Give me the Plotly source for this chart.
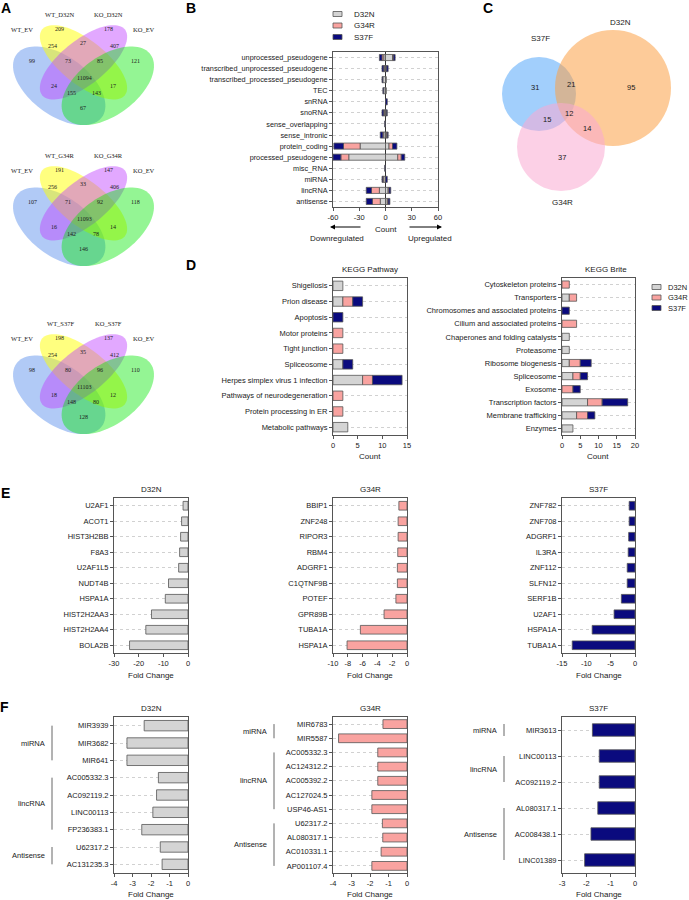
import numpy as np
import plotly.graph_objects as go

W, H = 689, 900
SANS = "Liberation Sans, Arial, sans-serif"
SERIF = "Liberation Serif, Times New Roman, serif"
C_D32N = "#d4d4d4"
C_G34R = "#f9a3a0"
C_S37F = "#0a0a7e"
EDGE = "#555555"
TXT = "#1a1a1a"

# ---------------- data ----------------
venn_sets = [["WT_EV", "WT_D32N", "KO_D32N", "KO_EV"],
             ["WT_EV", "WT_G34R", "KO_G34R", "KO_EV"],
             ["WT_EV", "WT_S37F", "KO_S37F", "KO_EV"]]
venn_d32n = [99, 209, 178, 121, 254, 27, 407, 73, 85, 11094, 24, 17, 155, 143, 67]
venn_g34r = [107, 191, 147, 118, 256, 33, 406, 71, 92, 11093, 16, 14, 142, 78, 146]
venn_s37f = [98, 198, 137, 110, 254, 35, 412, 80, 96, 11103, 18, 12, 148, 80, 128]

b_cats = ["unprocessed_pseudogene", "transcribed_unprocessed_pseudogene",
          "transcribed_processed_pseudogene", "TEC", "snRNA", "snoRNA",
          "sense_overlapping", "sense_intronic", "protein_coding",
          "processed_pseudogene", "misc_RNA", "miRNA", "lincRNA", "antisense"]
b_d32n_down = [2, 1, 3, 2, 0, 1, 0, 2, 29, 42, 0, 2, 7, 6]
b_g34r_down = [2, 1, 0, 0, 0, 1, 0, 1, 19, 9, 0, 1, 9, 9]
b_s37f_down = [3, 2, 1, 1, 0, 2, 1, 3, 11, 9, 1, 1, 6, 7]
b_d32n_up = [8, 1, 1, 1, 0, 1, 0, 1, 4, 14, 0, 0, 3, 2]
b_g34r_up = [1, 0, 0, 0, 0, 0, 0, 1, 4, 4, 0, 0, 1, 1]
b_s37f_up = [2, 2, 0, 0, 2, 1, 0, 1, 5, 4, 0, 2, 2, 2]

c_labels = ["S37F", "D32N", "G34R"]
c_counts = [31, 21, 95, 15, 12, 14, 37]

path_cats = ["Shigellosis", "Prion disease", "Apoptosis", "Motor proteins",
             "Tight junction", "Spliceosome", "Herpes simplex virus 1 infection",
             "Pathways of neurodegeneration", "Protein processing in ER",
             "Metabolic pathways"]
path_d32n = [2, 2, 0, 0, 0, 2, 6, 0, 0, 3]
path_g34r = [0, 2, 0, 2, 2, 0, 2, 2, 2, 0]
path_s37f = [0, 2, 2, 0, 0, 2, 6, 0, 0, 0]

brite_cats = ["Cytoskeleton proteins", "Transporters",
              "Chromosomes and associated proteins", "Cilium and associated proteins",
              "Chaperones and folding catalysts", "Proteasome", "Ribosome biogenesis",
              "Spliceosome", "Exosome", "Transcription factors",
              "Membrane trafficking", "Enzymes"]
brite_d32n = [0, 2, 0, 0, 2, 2, 2, 3, 0, 7, 4, 3]
brite_g34r = [2, 2, 0, 4, 0, 0, 3, 2, 3, 4, 3, 0]
brite_s37f = [0, 0, 2, 0, 0, 0, 3, 2, 2, 7, 2, 0]

e_d32n_genes = ["U2AF1", "ACOT1", "HIST3H2BB", "F8A3", "U2AF1L5", "NUDT4B",
                "HSPA1A", "HIST2H2AA3", "HIST2H2AA4", "BOLA2B"]
e_d32n_fc = [-2.0, -2.6, -3.0, -3.4, -3.8, -7.9, -9.2, -14.8, -17.1, -23.7]
e_g34r_genes = ["BBIP1", "ZNF248", "RIPOR3", "RBM4", "ADGRF1", "C1QTNF9B",
                "POTEF", "GPR89B", "TUBA1A", "HSPA1A"]
e_g34r_fc = [-1.1, -1.2, -1.2, -1.25, -1.3, -1.3, -1.5, -3.1, -6.3, -8.1]
e_s37f_genes = ["ZNF782", "ZNF708", "ADGRF1", "IL3RA", "ZNF112", "SLFN12",
                "SERF1B", "U2AF1", "HSPA1A", "TUBA1A"]
e_s37f_fc = [-1.2, -1.2, -1.3, -1.4, -1.6, -1.6, -2.8, -4.3, -8.8, -12.9]

f_d32n_genes = ["MIR3939", "MIR3682", "MIR641", "AC005332.3", "AC092119.2",
                "LINC00113", "FP236383.1", "U62317.2", "AC131235.3"]
f_d32n_fc = [-2.37, -3.3, -3.3, -1.6, -1.7, -1.9, -2.5, -1.5, -1.4]
f_d32n_groups = [("miRNA", 0, 2), ("lincRNA", 3, 6), ("Antisense", 7, 8)]
f_g34r_genes = ["MIR6783", "MIR5587", "AC005332.3", "AC124312.2", "AC005392.2",
                "AC127024.5", "USP46-AS1", "U62317.2", "AL080317.1",
                "AC010331.1", "AP001107.4"]
f_g34r_fc = [-1.3, -3.7, -1.58, -1.58, -1.58, -1.9, -1.9, -1.33, -1.31, -1.4, -1.9]
f_g34r_groups = [("miRNA", 0, 1), ("lincRNA", 2, 6), ("Antisense", 7, 10)]
f_s37f_genes = ["MIR3613", "LINC00113", "AC092119.2", "AL080317.1",
                "AC008438.1", "LINC01389"]
f_s37f_fc = [-1.75, -1.47, -1.47, -1.53, -1.81, -2.07]
f_s37f_groups = [("miRNA", 0, 0), ("lincRNA", 1, 2), ("Antisense", 3, 5)]

# ---------------- helpers ----------------
fig = go.Figure()
layout = dict(width=W, height=H, margin=dict(l=0, r=0, t=0, b=0), template="none",
              font=dict(family=SANS, color=TXT),
              paper_bgcolor="white", plot_bgcolor="rgba(0,0,0,0)",
              showlegend=False, barmode="relative")
annotations = []
shapes = []
OV = ("x10", "y10")


def nz(vals, sign=1):
    return [sign * v if v else None for v in vals]


def txt(x, y, s, size=7.5, family=SANS, xanchor="center", color=TXT, **kw):
    annotations.append(dict(x=x, y=y, xref=OV[0], yref=OV[1], text=s,
                            showarrow=False, xanchor=xanchor, yanchor="middle",
                            font=dict(family=family, size=size, color=color), **kw))


def add_axes(i, xl, xr, yt, yb, cats, xrange, tickvals, ticktext=None):
    xa = "xaxis" if i == 1 else f"xaxis{i}"
    ya = "yaxis" if i == 1 else f"yaxis{i}"
    if ticktext is None:
        ticktext = [str(v) for v in tickvals]
    layout[xa] = dict(domain=[xl / W, xr / W], range=xrange, tickvals=tickvals,
                      ticktext=ticktext, anchor=f"y{i}", showline=True,
                      linecolor=EDGE, linewidth=1, mirror=True, ticks="outside",
                      ticklen=3, tickwidth=1, tickcolor=EDGE,
                      tickfont=dict(family=SANS, size=7.5, color=TXT),
                      showgrid=False, zeroline=False, fixedrange=True)
    layout[ya] = dict(domain=[1 - yb / H, 1 - yt / H], type="category",
                      categoryorder="array", categoryarray=cats,
                      range=[len(cats) - 0.5, -0.5], anchor=f"x{i}",
                      showline=True, linecolor=EDGE, linewidth=1, mirror=True,
                      ticks="outside", ticklen=3, tickwidth=1, tickcolor=EDGE,
                      tickfont=dict(family=SANS, size=7.5, color=TXT),
                      showgrid=True, gridcolor="#c6c6c6", griddash="dot",
                      gridwidth=0.8, zeroline=False, fixedrange=True)


def bar(i, xs, cats, color, width):
    fig.add_trace(go.Bar(x=xs, y=cats, orientation="h", width=width,
                         marker=dict(color=color, line=dict(color=EDGE, width=0.8)),
                         xaxis=f"x{i}", yaxis=f"y{i}", hoverinfo="skip"))


# overlay axis in pixel coordinates
layout["xaxis10"] = dict(domain=[0, 1], range=[0, W], visible=False, fixedrange=True, anchor="y10")
layout["yaxis10"] = dict(domain=[0, 1], range=[H, 0], visible=False, fixedrange=True, anchor="x10")
fig.add_trace(go.Scatter(x=[None], y=[None], xaxis="x10", yaxis="y10", hoverinfo="skip"))

# ---------------- panel letters ----------------
for letter, (lx, ly) in zip("ABCDEF", [(6, 8), (191, 8), (488, 8), (191, 265), (5, 493), (4, 707)]):
    txt(lx, ly, f"<b>{letter}</b>", size=14, family=SANS, color="#000")

# ---------------- panel A: four-set Venn diagrams ----------------
ell_specs = [((0.35, 0.40), 0.35, 0.20, -45, "rgba(100,149,237,0.5)"),
             ((0.50, 0.57), 0.35, 0.15, -45, "rgba(255,255,0,0.5)"),
             ((0.50, 0.57), 0.35, 0.15, 45, "rgba(191,62,255,0.45)"),
             ((0.65, 0.40), 0.35, 0.20, 45, "rgba(0,230,0,0.42)")]
count_pos = [(32, 61), (59, 29), (108, 29), (135, 61), (52, 46), (83, 43), (114, 46),
             (68, 61), (100, 61), (84, 78), (54, 86), (113, 86), (71, 93), (96, 93), (83, 108)]
label_pos = [(22, 29), (60, 14), (108, 14), (144, 29)]
t = np.linspace(0, 2 * np.pi, 91)
for vi, (names, counts) in enumerate(zip(venn_sets, [venn_d32n, venn_g34r, venn_s37f])):
    oy = [0, 141, 309][vi]
    for (cx, cy), a, b, ang, col in ell_specs:
        th = np.radians(ang)
        xs = cx + a * np.cos(t) * np.cos(th) - b * np.sin(t) * np.sin(th)
        ys = cy + a * np.cos(t) * np.sin(th) + b * np.sin(t) * np.cos(th)
        px = 2.5 + 162 * xs
        py = 141 - 138 * ys + oy
        path = "M " + " L ".join(f"{u:.2f},{v:.2f}" for u, v in zip(px, py)) + " Z"
        shapes.append(dict(type="path", path=path, xref=OV[0], yref=OV[1],
                           fillcolor=col, line=dict(width=0), layer="below"))
    for (px_, py_), c in zip(count_pos, counts):
        txt(px_, py_ + oy, str(c), size=6, family=SERIF)
    for (px_, py_), n in zip(label_pos, names):
        txt(px_, py_ + oy, n, size=6.5, family=SERIF)

# ---------------- panel B ----------------
add_axes(1, 333, 438, 52, 207, b_cats, [-60, 60], [-60, -30, 0, 30, 60],
         ["-60", "-30", "0", "30", "60"])
layout["xaxis"]["zeroline"] = True
layout["xaxis"]["zerolinecolor"] = "#333"
layout["xaxis"]["zerolinewidth"] = 1
layout["yaxis"]["tickfont"]["size"] = 7.3
for vals, col, sgn in [(b_d32n_down, C_D32N, -1), (b_g34r_down, C_G34R, -1), (b_s37f_down, C_S37F, -1),
                       (b_d32n_up, C_D32N, 1), (b_g34r_up, C_G34R, 1), (b_s37f_up, C_S37F, 1)]:
    bar(1, nz(vals, sgn), b_cats, col, 0.55)
for k, (name, col) in enumerate(zip(["D32N", "G34R", "S37F"], [C_D32N, C_G34R, C_S37F])):
    yy = [14, 25.5, 37][k]
    shapes.append(dict(type="rect", xref=OV[0], yref=OV[1], x0=333, x1=342, y0=yy - 2.5, y1=yy + 2.5,
                       fillcolor=col, line=dict(color=EDGE, width=0.8)))
    txt(352, yy, name, size=8, xanchor="left")
txt(386, 229, "Count", size=8)
txt(337, 238, "Downregulated", size=8)
txt(430, 238, "Upregulated", size=8)
annotations.append(dict(x=330, y=227, ax=362, ay=227, xref=OV[0], yref=OV[1], axref=OV[0], ayref=OV[1],
                        text="", showarrow=True, arrowhead=2, arrowsize=1, arrowwidth=1, arrowcolor="#000"))
annotations.append(dict(x=442, y=227, ax=408, ay=227, xref=OV[0], yref=OV[1], axref=OV[0], ayref=OV[1],
                        text="", showarrow=True, arrowhead=2, arrowsize=1, arrowwidth=1, arrowcolor="#000"))

# ---------------- panel C: three-set Venn ----------------
circles = [(539, 94, 37, "rgba(70,160,250,0.5)"),
           (613, 88, 58, "rgba(252,160,70,0.55)"),
           (561, 147, 44, "rgba(250,170,210,0.55)")]
for cx, cy, r, col in circles:
    shapes.append(dict(type="circle", xref=OV[0], yref=OV[1], x0=cx - r, x1=cx + r,
                       y0=cy - r, y1=cy + r, fillcolor=col, line=dict(width=0), layer="below"))
for (px_, py_), n in zip([(540, 38), (620, 22), (562, 202)], c_labels):
    txt(px_, py_, n, size=8)
for (px_, py_), c in zip([(535, 87), (571, 84), (631, 87), (547, 119), (569, 113), (587, 128), (562, 157)], c_counts):
    txt(px_, py_, str(c), size=7.5)

# ---------------- panel D ----------------
add_axes(2, 333, 407, 278, 435, path_cats, [0, 15], [0, 5, 10, 15])
for vals, col in [(path_d32n, C_D32N), (path_g34r, C_G34R), (path_s37f, C_S37F)]:
    bar(2, nz(vals), path_cats, col, 0.6)
add_axes(3, 562, 635, 278, 435, brite_cats, [0, 20], [0, 5, 10, 15, 20])
for vals, col in [(brite_d32n, C_D32N), (brite_g34r, C_G34R), (brite_s37f, C_S37F)]:
    bar(3, nz(vals), brite_cats, col, 0.55)
txt(370, 269, "KEGG Pathway", size=8)
txt(606, 269, "KEGG Brite", size=8)
txt(370, 456, "Count", size=8)
txt(598, 456, "Count", size=8)
for k, (name, col) in enumerate(zip(["D32N", "G34R", "S37F"], [C_D32N, C_G34R, C_S37F])):
    yy = [287, 297.5, 308][k]
    shapes.append(dict(type="rect", xref=OV[0], yref=OV[1], x0=652, x1=661, y0=yy - 2.5, y1=yy + 2.5,
                       fillcolor=col, line=dict(color=EDGE, width=0.8)))
    txt(666, yy, name, size=7.5, xanchor="left")

# ---------------- panel E ----------------
e_specs = [(4, 114, 188, e_d32n_genes, e_d32n_fc, C_D32N, [-30, 0], [-30, -20, -10, 0], "D32N"),
           (5, 333, 407, e_g34r_genes, e_g34r_fc, C_G34R, [-10, 0], [-10, -8, -6, -4, -2, 0], "G34R"),
           (6, 562, 635, e_s37f_genes, e_s37f_fc, C_S37F, [-15, 0], [-15, -10, -5, 0], "S37F")]
for i, xl, xr, genes, fc, col, rng, tv, title in e_specs:
    add_axes(i, xl, xr, 498, 653, genes, rng, tv)
    bar(i, fc, genes, col, 0.56)
    txt((xl + xr) / 2, 489, title, size=8)
    txt((xl + xr) / 2, 675, "Fold Change", size=8)

# ---------------- panel F ----------------
f_specs = [(7, 114, 188, f_d32n_genes, f_d32n_fc, f_d32n_groups, C_D32N, [-4, 0], [-4, -3, -2, -1, 0], "D32N", 52, 0.6),
           (8, 333, 407, f_g34r_genes, f_g34r_fc, f_g34r_groups, C_G34R, [-4, 0], [-4, -3, -2, -1, 0], "G34R", 274, 0.62),
           (9, 562, 635, f_s37f_genes, f_s37f_fc, f_s37f_groups, C_S37F, [-3, 0], [-3, -2, -1, 0], "S37F", 504, 0.48)]
FT, FB = 717, 873
for i, xl, xr, genes, fc, groups, col, rng, tv, title, bx, wd in f_specs:
    add_axes(i, xl, xr, FT, FB, genes, rng, tv)
    bar(i, fc, genes, col, wd)
    txt((xl + xr) / 2, 708, title, size=8)
    txt((xl + xr) / 2, 894, "Fold Change", size=8)
    step = (FB - FT) / len(genes)
    for gname, g0, g1 in groups:
        y0 = FT + (g0 + 0.5) * step
        y1 = FT + (g1 + 0.5) * step
        if g0 == g1:
            y0 -= 6
            y1 += 6
        shapes.append(dict(type="line", xref=OV[0], yref=OV[1], x0=bx, x1=bx, y0=y0, y1=y1,
                           line=dict(color="#666", width=1)))
        txt(bx - 5, (y0 + y1) / 2, gname, size=7.5, xanchor="right")

layout["annotations"] = annotations
layout["shapes"] = shapes
fig.update_layout(**layout)
fig.write_html("out.html", config={"displayModeBar": False, "staticPlot": True},
               post_script="document.body.style.margin='0';document.body.style.overflow='hidden';")
